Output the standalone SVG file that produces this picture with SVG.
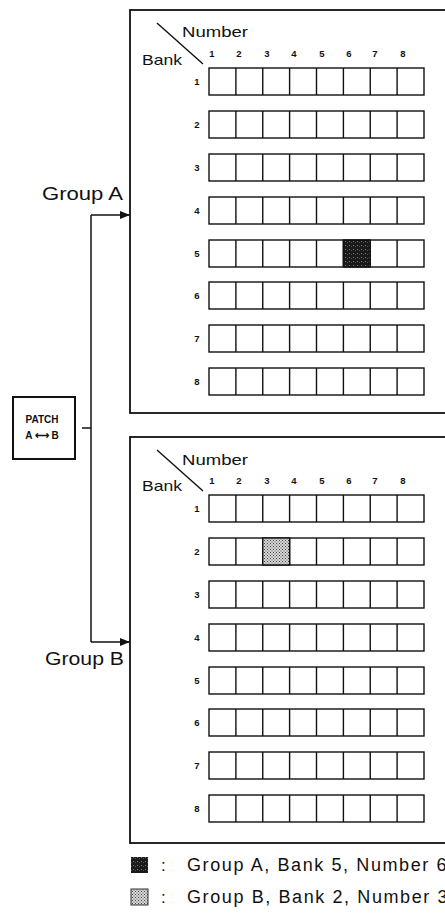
<svg xmlns="http://www.w3.org/2000/svg" width="445" height="917" viewBox="0 0 445 917">
<defs>
<style>
.panel{fill:#fff;stroke:#111;stroke-width:1.8}
.cell{fill:#fff;stroke:#111;stroke-width:1.4}
.lbl{font-family:"Liberation Sans",Arial,sans-serif;fill:#111}
.dig{font-family:"Liberation Sans",Arial,sans-serif;font-weight:bold;font-size:9.5px;fill:#111;text-anchor:middle}
.wire{fill:none;stroke:#111;stroke-width:1.5}
.leg{font-family:"Liberation Sans",Arial,sans-serif;fill:#111;font-size:18px;letter-spacing:1.6px}
</style>
<pattern id="dark" width="4" height="4" patternUnits="userSpaceOnUse">
<rect width="4" height="4" fill="#1a1a1a"/>
<rect x="1" y="1" width="1" height="1" fill="#777"/>
<rect x="3" y="2" width="1" height="1" fill="#555"/>
</pattern>
<pattern id="light" width="3" height="3" patternUnits="userSpaceOnUse">
<rect width="3" height="3" fill="#d8d8d8"/>
<rect x="0" y="0" width="1" height="1" fill="#444"/>
<rect x="1.5" y="1.5" width="1" height="1" fill="#444"/>
</pattern>
<marker id="arr" markerWidth="10" markerHeight="8" refX="10" refY="4" orient="auto" markerUnits="userSpaceOnUse">
<path d="M0,0 L10,4 L0,8 Z" fill="#111"/>
</marker>
<g id="grid">
<g id="row">
<rect class="cell" x="209" y="0" width="215" height="27"/>
<path class="cell" d="M235.9,0V27M262.75,0V27M289.6,0V27M316.5,0V27M343.4,0V27M370.25,0V27M397.1,0V27"/>
</g>
</g>
</defs>

<g id="groupA">
<rect class="panel" x="130" y="10" width="330" height="403"/>
<line x1="157" y1="23" x2="203" y2="64" stroke="#111" stroke-width="1.4"/>
<text class="lbl" x="182" y="37" font-size="15" textLength="66" lengthAdjust="spacingAndGlyphs">Number</text>
<text class="lbl" x="142" y="65" font-size="15" textLength="40" lengthAdjust="spacingAndGlyphs">Bank</text>
<g>
<text class="dig" x="212" y="57">1</text><text class="dig" x="239" y="57">2</text><text class="dig" x="267" y="57">3</text><text class="dig" x="294" y="57">4</text><text class="dig" x="322" y="57">5</text><text class="dig" x="349" y="57">6</text><text class="dig" x="375" y="57">7</text><text class="dig" x="403" y="57">8</text>
</g>
<g>
<text class="dig" x="197" y="85">1</text><text class="dig" x="197" y="128">2</text><text class="dig" x="197" y="171">3</text><text class="dig" x="197" y="214">4</text><text class="dig" x="197" y="257">5</text><text class="dig" x="197" y="299">6</text><text class="dig" x="197" y="342">7</text><text class="dig" x="197" y="385">8</text>
</g>
<use href="#row" y="68"/><use href="#row" y="111"/><use href="#row" y="154"/><use href="#row" y="197"/><use href="#row" y="240"/><use href="#row" y="282"/><use href="#row" y="325"/><use href="#row" y="368"/>
<rect x="343.4" y="240" width="26.85" height="27" fill="url(#dark)" stroke="#111" stroke-width="1.4"/>
</g>

<g id="groupB">
<rect class="panel" x="130" y="437" width="330" height="406"/>
<line x1="157" y1="450" x2="203" y2="491" stroke="#111" stroke-width="1.4"/>
<text class="lbl" x="182" y="465" font-size="15" textLength="66" lengthAdjust="spacingAndGlyphs">Number</text>
<text class="lbl" x="142" y="491" font-size="15" textLength="40" lengthAdjust="spacingAndGlyphs">Bank</text>
<g>
<text class="dig" x="212" y="484">1</text><text class="dig" x="239" y="484">2</text><text class="dig" x="267" y="484">3</text><text class="dig" x="294" y="484">4</text><text class="dig" x="322" y="484">5</text><text class="dig" x="349" y="484">6</text><text class="dig" x="375" y="484">7</text><text class="dig" x="403" y="484">8</text>
</g>
<g>
<text class="dig" x="197" y="512">1</text><text class="dig" x="197" y="555">2</text><text class="dig" x="197" y="598">3</text><text class="dig" x="197" y="641">4</text><text class="dig" x="197" y="684">5</text><text class="dig" x="197" y="726">6</text><text class="dig" x="197" y="769">7</text><text class="dig" x="197" y="812">8</text>
</g>
<use href="#row" y="495"/><use href="#row" y="538"/><use href="#row" y="581"/><use href="#row" y="624"/><use href="#row" y="667"/><use href="#row" y="709"/><use href="#row" y="752"/><use href="#row" y="795"/>
<rect x="262.75" y="538" width="26.85" height="27" fill="url(#light)" stroke="#111" stroke-width="1.4"/>
</g>

<g id="patch">
<rect x="13" y="397" width="62" height="62" fill="#fff" stroke="#111" stroke-width="2"/>
<text class="lbl" x="42" y="423" font-size="10" text-anchor="middle" font-weight="bold">PATCH</text>
<text class="lbl" x="42" y="439" font-size="10" text-anchor="middle" font-weight="bold">A ⟷ B</text>
</g>

<g id="labelA"><text class="lbl" x="42" y="200" font-size="18" textLength="81" lengthAdjust="spacingAndGlyphs">Group A</text></g>
<g id="labelB"><text class="lbl" x="45" y="665" font-size="18" textLength="79" lengthAdjust="spacingAndGlyphs">Group B</text></g>

<g id="connectors">
<path class="wire" d="M82,428H91"/>
<path class="wire" d="M91,215V642"/>
<path class="wire" d="M91,215H130" marker-end="url(#arr)"/>
<path class="wire" d="M91,642H130" marker-end="url(#arr)"/>
</g>

<g id="legend">
<rect x="131" y="857" width="17" height="16" fill="url(#dark)"/>
<text class="lbl" x="161" y="871" font-size="17">:</text>
<text class="leg" x="187" y="871">Group A, Bank 5, Number 6</text>
<rect x="131" y="889" width="17" height="16" fill="url(#light)" stroke="#333" stroke-width="1"/>
<text class="lbl" x="161" y="903" font-size="17">:</text>
<text class="leg" x="187" y="903">Group B, Bank 2, Number 3</text>
</g>
</svg>
